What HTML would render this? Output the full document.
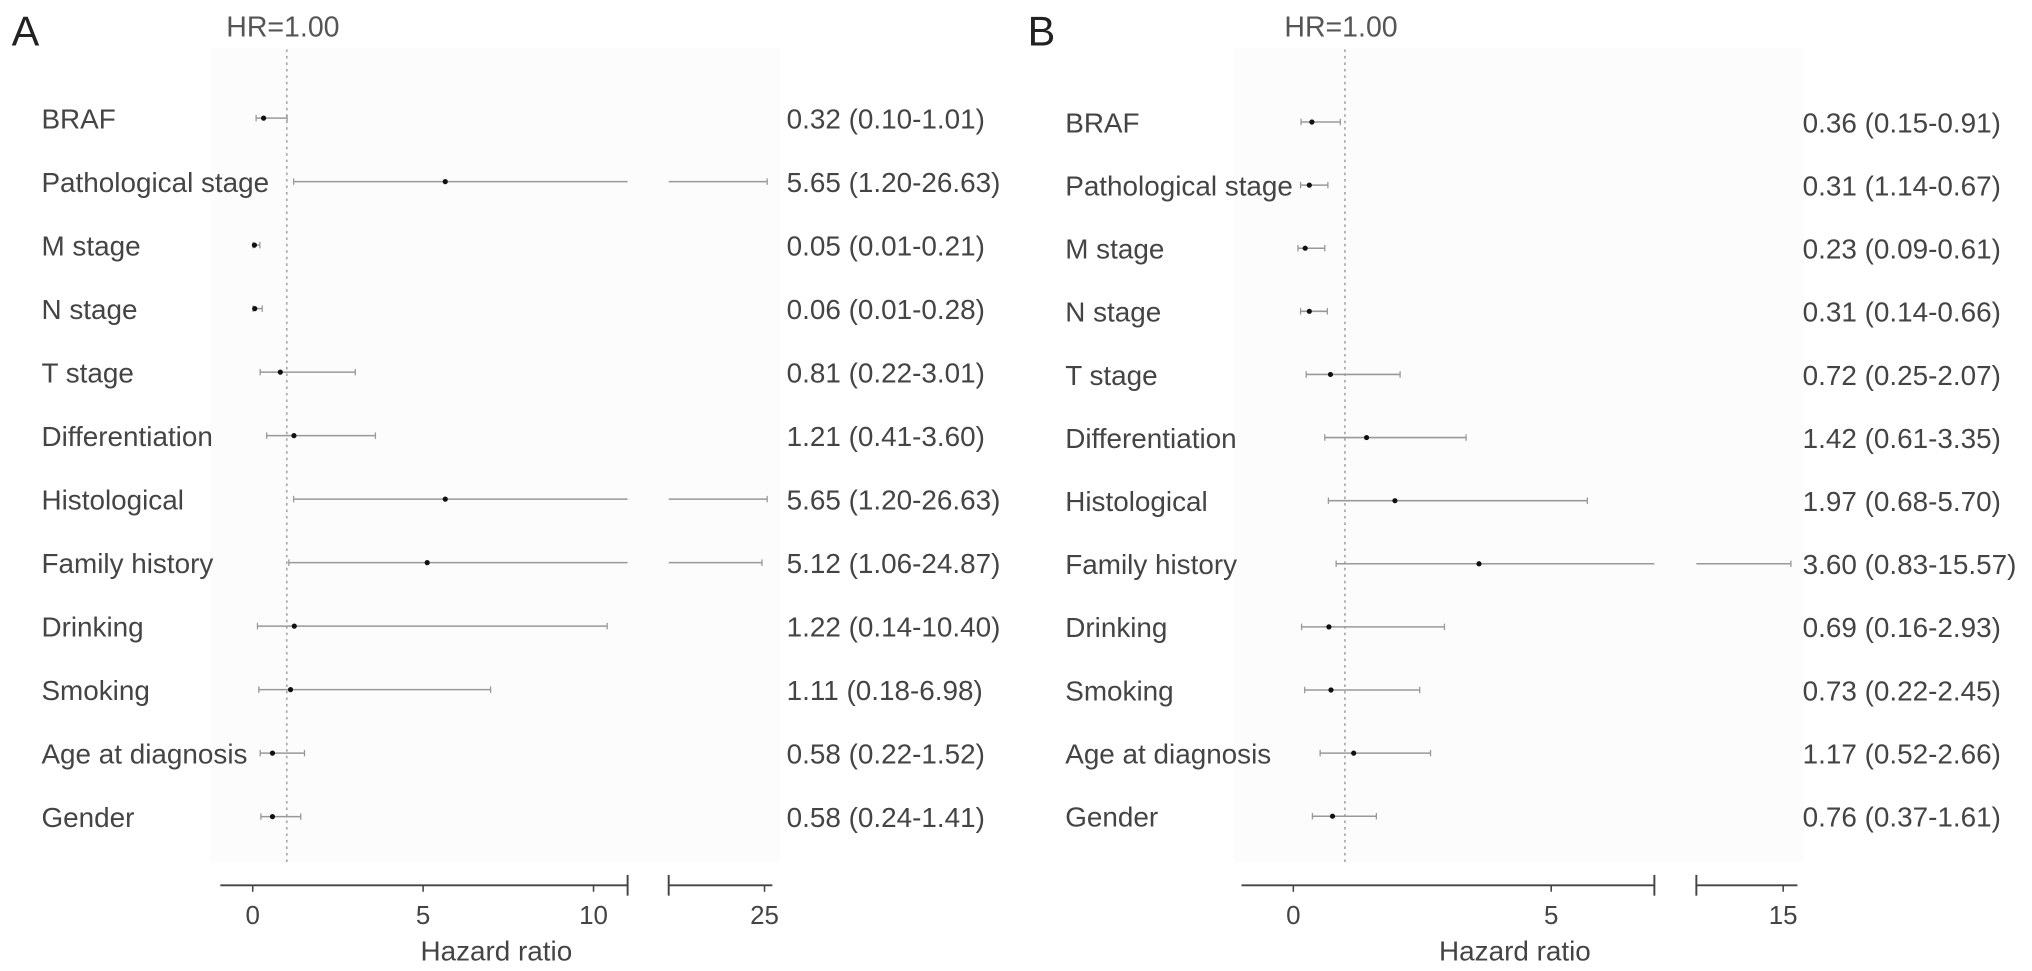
<!DOCTYPE html>
<html><head><meta charset="utf-8"><style>
html,body{margin:0;padding:0;background:#fff;}
svg{display:block;font-family:"Liberation Sans",sans-serif;}
</style></head><body>
<svg id="chart" width="2032" height="971" viewBox="0 0 1568 749"></svg>
<script>
const labels = ["BRAF","Pathological stage","M stage","N stage","T stage","Differentiation","Histological","Family history","Drinking","Smoking","Age at diagnosis","Gender"];
const hrA = [0.32,5.65,0.05,0.06,0.81,1.21,5.65,5.12,1.22,1.11,0.58,0.58];
const loA = [0.10,1.20,0.01,0.01,0.22,0.41,1.20,1.06,0.14,0.18,0.22,0.24];
const hiA = [1.01,26.63,0.21,0.28,3.01,3.60,26.63,24.87,10.40,6.98,1.52,1.41];
const txtA = ["0.32 (0.10-1.01)","5.65 (1.20-26.63)","0.05 (0.01-0.21)","0.06 (0.01-0.28)","0.81 (0.22-3.01)","1.21 (0.41-3.60)","5.65 (1.20-26.63)","5.12 (1.06-24.87)","1.22 (0.14-10.40)","1.11 (0.18-6.98)","0.58 (0.22-1.52)","0.58 (0.24-1.41)"];
const hrB = [0.36,0.31,0.23,0.31,0.72,1.42,1.97,3.60,0.69,0.73,1.17,0.76];
const loB = [0.15,0.14,0.09,0.14,0.25,0.61,0.68,0.83,0.16,0.22,0.52,0.37];
const hiB = [0.91,0.67,0.61,0.66,2.07,3.35,5.70,15.57,2.93,2.45,2.66,1.61];
const txtB = ["0.36 (0.15-0.91)","0.31 (1.14-0.67)","0.23 (0.09-0.61)","0.31 (0.14-0.66)","0.72 (0.25-2.07)","1.42 (0.61-3.35)","1.97 (0.68-5.70)","3.60 (0.83-15.57)","0.69 (0.16-2.93)","0.73 (0.22-2.45)","1.17 (0.52-2.66)","0.76 (0.37-1.61)"];
const ticksA1 = [0,5,10], ticksA2 = [25];
const ticksB1 = [0,5], ticksB2 = [15];

const NS="http://www.w3.org/2000/svg", svg=document.getElementById('chart');
function el(tag, attrs, parent){const e=document.createElementNS(NS,tag);for(const k in attrs)e.setAttribute(k,attrs[k]);(parent||svg).appendChild(e);return e;}

function panel(cfg){
  const g=el('g',{});
  
  
  const bg=el('rect',{x:cfg.bgx,y:37,width:cfg.bgw,height:628,fill:'#fcfcfc'},g);
  
  
  const L=el('text',{x:cfg.letterX,y:35,'font-size':32,fill:'#222'},g); L.textContent=cfg.letter;
  
  
  const x1=v=>cfg.x0+v*cfg.k1;
  const x2=v=>Math.min(cfg.s2end, cfg.s2a+(v-cfg.v2a)*cfg.k2);
  const refx=x1(1);
  const hr=el('text',{x:refx-3,y:28,'font-size':22,fill:'#555','text-anchor':'middle'},g); hr.textContent='HR=1.00';
  
  
  const ref=el('line',{x1:refx,x2:refx,y1:38,y2:665,stroke:'#aaa','stroke-width':1.3,'stroke-dasharray':'2,3'},g);
  
  
  cfg.labels.forEach((lab,i)=>{
    const y=cfg.y0+i*cfg.dy;
    const t=el('text',{x:cfg.labX,y:y+8,'font-size':21.5,fill:'#444'},g); t.textContent=lab;
    
    
    const v=el('text',{x:cfg.valX,y:y+8,'font-size':21.5,fill:'#444'},g); v.textContent=cfg.txt[i];
    
    
    const lo=cfg.lo[i], hi=cfg.hi[i], hv=cfg.hr[i];
    const xa=x1(lo), xb=x1(Math.min(hi,cfg.brk));
    const ci=el('line',{x1:xa,x2:xb,y1:y,y2:y,stroke:'#999','stroke-width':1.2},g);
    
    
    el('line',{x1:xa,x2:xa,y1:y-2.5,y2:y+2.5,stroke:'#999','stroke-width':1},g);
    if(hi<=cfg.brk) el('line',{x1:xb,x2:xb,y1:y-2.5,y2:y+2.5,stroke:'#999','stroke-width':1},g);
    else {
      const xe=x2(hi);
      const c2=el('line',{x1:cfg.s2a,x2:xe,y1:y,y2:y,stroke:'#999','stroke-width':1.2},g);
      
      
      el('line',{x1:xe,x2:xe,y1:y-2.5,y2:y+2.5,stroke:'#999','stroke-width':1},g);
    }
    const p=el('circle',{cx:x1(hv),cy:y,r:2,fill:'#111'},g);
    
    
  });
  const ay=683;
  const ax=el('line',{x1:cfg.axStart,x2:x1(cfg.brk),y1:ay,y2:ay,stroke:'#444','stroke-width':1.5},g);
  
  
  el('line',{x1:x1(cfg.brk),x2:x1(cfg.brk),y1:ay-8,y2:ay+8,stroke:'#444','stroke-width':1.5},g);
  const ax2=el('line',{x1:cfg.s2a,x2:cfg.s2end+4,y1:ay,y2:ay,stroke:'#444','stroke-width':1.5},g);
  
  
  el('line',{x1:cfg.s2a,x2:cfg.s2a,y1:ay-8,y2:ay+8,stroke:'#444','stroke-width':1.5},g);
  const tick=(x,lab)=>{
    el('line',{x1:x,x2:x,y1:ay,y2:ay+5,stroke:'#444','stroke-width':1.2},g);
    const t=el('text',{x:x,y:ay+30,'font-size':20,fill:'#444','text-anchor':'middle'},g); t.textContent=lab;
    
    
  };
  cfg.t1.forEach(v=>tick(x1(v),v));
  cfg.t2.forEach(v=>tick(cfg.s2a+(v-cfg.v2a)*cfg.k2,v));
  const tt=el('text',{x:cfg.titleX,y:741,'font-size':21.5,fill:'#444','text-anchor':'middle'},g); tt.textContent='Hazard ratio';
  
  
}
panel({letter:'A',letterX:9,bgx:162,bgw:440,labels:labels,hr:hrA,lo:loA,hi:hiA,txt:txtA,x0:195,k1:26.3,brk:11,s2a:516,v2a:20.07,k2:15,s2end:592,axStart:170,y0:91,dy:49.0,labX:32,valX:607,t1:ticksA1,t2:ticksA2,titleX:383});
panel({letter:'B',letterX:793,bgx:952,bgw:440,labels:labels,hr:hrB,lo:loB,hi:hiB,txt:txtB,x0:998,k1:39.8,brk:7,s2a:1309,v2a:8.62,k2:10.5,s2end:1383,axStart:958,y0:94,dy:48.7,labX:822,valX:1391,t1:ticksB1,t2:ticksB2,titleX:1169});
</script>
</body></html>
